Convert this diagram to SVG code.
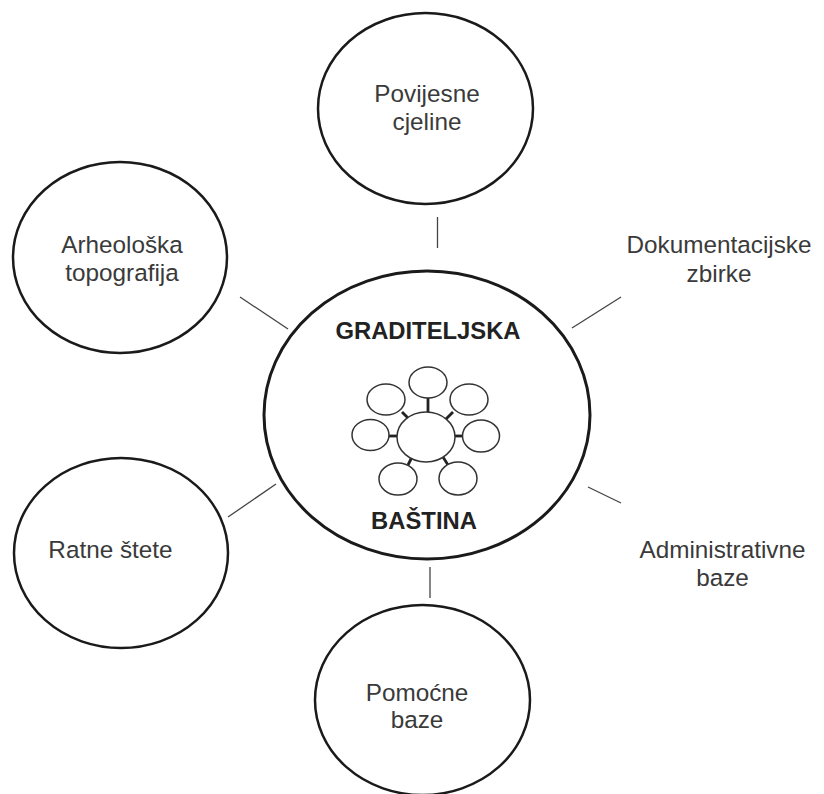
<svg xmlns="http://www.w3.org/2000/svg" width="824" height="794" viewBox="0 0 824 794">
<style>
.node{fill:#fff;stroke:#1a1a1a;stroke-width:2.5}
.lbl{font-family:"Liberation Sans",Arial,sans-serif;font-size:24.3px;fill:#3a3a3a;text-anchor:middle}
.big{font-family:"Liberation Sans",Arial,sans-serif;font-size:23.8px;font-weight:bold;fill:#222;text-anchor:middle}
.conn line{stroke:#444;stroke-width:1.3}
.mini ellipse{fill:#fff;stroke:#333;stroke-width:1.5}
.mini line{stroke:#222;stroke-width:2.8}
</style>
<rect width="824" height="794" fill="#fff"/>
<g id="connectors" class="conn">
<line x1="437.5" y1="217" x2="437.5" y2="248"/>
<line x1="572" y1="328" x2="621" y2="297"/>
<line x1="588" y1="487" x2="621" y2="503"/>
<line x1="430" y1="567" x2="430" y2="598"/>
<line x1="228" y1="517" x2="276" y2="484"/>
<line x1="240" y1="297" x2="288" y2="329"/>
</g>
<g id="center">
<ellipse cx="427" cy="415" rx="163" ry="144" fill="#fff" stroke="#1a1a1a" stroke-width="3"/>
<text class="big" x="428" y="339">GRADITELJSKA</text>
<text class="big" x="424" y="529">BAŠTINA</text>
<g class="mini">
<line x1="428" y1="398" x2="428" y2="412"/>
<line x1="402" y1="412" x2="409" y2="419"/>
<line x1="446" y1="419" x2="453" y2="412"/>
<line x1="389" y1="436" x2="397" y2="436"/>
<line x1="455" y1="436" x2="463" y2="436"/>
<line x1="412" y1="457" x2="408" y2="465"/>
<line x1="443" y1="457" x2="448" y2="465"/>
<ellipse cx="426" cy="437" rx="29" ry="25"/>
<ellipse cx="428" cy="382.5" rx="19" ry="15.5"/>
<ellipse cx="386" cy="399.5" rx="19" ry="15.5"/>
<ellipse cx="469" cy="399.5" rx="19" ry="15.5"/>
<ellipse cx="370.5" cy="435" rx="18.5" ry="15.5"/>
<ellipse cx="481" cy="436" rx="18.5" ry="16"/>
<ellipse cx="398" cy="479" rx="19" ry="16"/>
<ellipse cx="458" cy="478.5" rx="19" ry="16.5"/>
</g>
</g>
<g id="povijesne">
<ellipse class="node" cx="425.5" cy="108.5" rx="107.5" ry="95.5"/>
<text class="lbl" x="427" y="102">Povijesne</text>
<text class="lbl" x="427" y="130">cjeline</text>
</g>
<g id="arheoloska">
<ellipse class="node" cx="120" cy="257.5" rx="107" ry="95.5"/>
<text class="lbl" x="122" y="253">Arheološka</text>
<text class="lbl" x="122" y="281">topografija</text>
</g>
<g id="dokumentacijske">
<text class="lbl" x="719" y="253">Dokumentacijske</text>
<text class="lbl" x="719" y="282">zbirke</text>
</g>
<g id="administrativne">
<text class="lbl" x="722.5" y="558">Administrativne</text>
<text class="lbl" x="722.5" y="586">baze</text>
</g>
<g id="ratne">
<ellipse class="node" cx="121" cy="553" rx="107" ry="95"/>
<text class="lbl" x="110.5" y="558">Ratne štete</text>
</g>
<g id="pomocne">
<ellipse class="node" cx="422.5" cy="700" rx="107.5" ry="95"/>
<text class="lbl" x="417" y="701">Pomoćne</text>
<text class="lbl" x="417" y="728">baze</text>
</g>
</svg>
